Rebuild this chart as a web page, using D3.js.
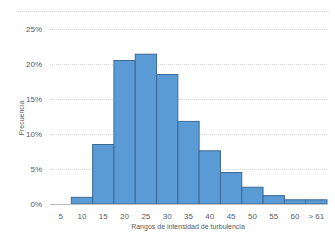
<!DOCTYPE html>
<html>
<head>
<meta charset="utf-8">
<script src="https://cdn.jsdelivr.net/npm/d3@7"></script>
<style>
  body { margin: 0; background: #fff; }
  text { font-family: "Liberation Sans", "Noto Sans", sans-serif; fill: #595959; }
</style>
</head>
<body>
<svg id="chart"></svg>
<script>
// Chart size
const width = 335;
const height = 243;

// Data
const categories = ["5", "10", "15", "20", "25", "30", "35", "40", "45", "50", "55", "60", "> 61"];
const frecuencia = [0, 0.95, 8.5, 20.5, 21.4, 18.5, 11.8, 7.6, 4.5, 2.4, 1.2, 0.6, 0.6];
const yTicks = [0, 5, 10, 15, 20, 25];

const margin = { top: 29, right: 8, bottom: 39, left: 50 };

const svg = d3.select("#chart")
    .attr("width", width)
    .attr("height", height);

// Chart area top border (dotted)
svg.append("line")
    .attr("x1", 16).attr("x2", 330)
    .attr("y1", 11.5).attr("y2", 11.5)
    .attr("stroke", "#d9d9d9")
    .attr("stroke-dasharray", "1,1");

const x = d3.scaleBand()
    .domain(categories)
    .range([margin.left, width - margin.right])
    .padding(0);

const y = d3.scaleLinear()
    .domain([0, 25])
    .range([height - margin.bottom, margin.top]);

// Gridlines
svg.append("g")
    .selectAll("line")
    .data(yTicks.filter(d => d > 0))
    .enter().append("line")
    .attr("x1", margin.left).attr("x2", width - margin.right)
    .attr("y1", d => Math.round(y(d)) + 0.5)
    .attr("y2", d => Math.round(y(d)) + 0.5)
    .attr("stroke", "#d9d9d9")
    .attr("stroke-dasharray", "1,1");

// Y axis labels
svg.append("g")
    .selectAll("text")
    .data(yTicks)
    .enter().append("text")
    .attr("x", margin.left - 8)
    .attr("y", d => y(d))
    .attr("dy", "0.35em")
    .attr("text-anchor", "end")
    .attr("font-size", 8)
    .text(d => d + "%");

// Bars
svg.append("g")
    .selectAll("rect")
    .data(frecuencia)
    .enter().append("rect")
    .attr("x", (d, i) => x(categories[i]))
    .attr("y", d => y(d))
    .attr("width", x.bandwidth())
    .attr("height", d => y(0) - y(d))
    .attr("fill", "#5b9bd5")
    .attr("stroke", "#3d6a94")
    .attr("stroke-width", 1);

// Baseline
svg.append("line")
    .attr("x1", margin.left).attr("x2", width - margin.right)
    .attr("y1", Math.round(y(0)) + 0.5).attr("y2", Math.round(y(0)) + 0.5)
    .attr("stroke", "#bfbfbf");

// X axis labels
svg.append("g")
    .selectAll("text")
    .data(categories)
    .enter().append("text")
    .attr("x", d => x(d) + x.bandwidth() / 2)
    .attr("y", y(0) + 12)
    .attr("dy", "0.35em")
    .attr("text-anchor", "middle")
    .attr("font-size", 8)
    .text(d => d);

// Axis titles
svg.append("text")
    .attr("x", 188)
    .attr("y", 227)
    .attr("dy", "0.35em")
    .attr("text-anchor", "middle")
    .attr("font-size", 7)
    .text("Rangos de intensidad de turbulencia");

svg.append("text")
    .attr("transform", "translate(22," + 118 + ") rotate(-90)")
    .attr("text-anchor", "middle")
    .attr("dy", "0.35em")
    .attr("font-size", 7)
    .text("Frecuencia");
</script>
</body>
</html>
